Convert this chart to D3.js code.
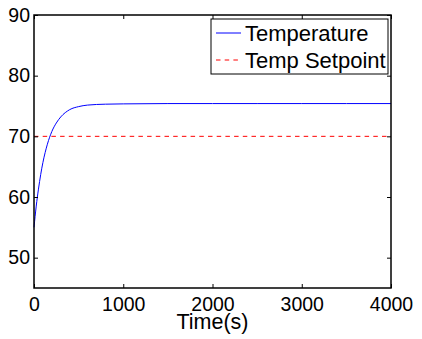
<!DOCTYPE html>
<html>
<head>
<meta charset="utf-8">
<script src="https://cdn.jsdelivr.net/npm/d3@7"></script>
<style>
  body { margin: 0; background: #fff; }
  svg { font-family: "Liberation Sans", Arial, Helvetica, sans-serif; }
  .axis path, .axis line { stroke: #000; }
</style>
</head>
<body>
<div id="chart"></div>
<script>
// Data
const timeValues = [0, 25, 50, 75, 100, 150, 200, 250, 300, 400, 500, 600, 800, 1000, 1500, 2000, 2500, 3000, 3500, 4000];
const tempValues = [55.0, 58.5, 61.3, 63.7, 65.7, 68.7, 70.8, 72.2, 73.2, 74.4, 74.9, 75.15, 75.3, 75.35, 75.4, 75.4, 75.4, 75.4, 75.4, 75.4];
const setpoint = 70;
const xTicks = [0, 1000, 2000, 3000, 4000];
const yTicks = [50, 60, 70, 80, 90];
const seriesNames = ["Temperature", "Temp Setpoint"];

const width = 422, height = 339;
const margin = { left: 34, top: 15, right: 31, bottom: 51 };
const plotW = width - margin.left - margin.right;
const plotH = height - margin.top - margin.bottom;

const svg = d3.select("#chart").append("svg")
    .attr("width", width)
    .attr("height", height);

const x = d3.scaleLinear().domain([0, 4000]).range([0, plotW]);
const y = d3.scaleLinear().domain([45, 90]).range([plotH, 0]);

const g = svg.append("g")
    .attr("transform", `translate(${margin.left},${margin.top})`);

// setpoint line
g.append("line")
    .attr("x1", x(0)).attr("x2", x(4000))
    .attr("y1", y(setpoint)).attr("y2", y(setpoint))
    .attr("stroke", "#ff0000")
    .attr("stroke-width", 1)
    .attr("stroke-dasharray", "4.5,4.2");

// temperature curve
const points = timeValues.map((t, i) => [t, tempValues[i]]);
const line = d3.line()
    .x(d => x(d[0]))
    .y(d => y(d[1]))
    .curve(d3.curveMonotoneX);

g.append("path")
    .datum(points)
    .attr("fill", "none")
    .attr("stroke", "#0000ff")
    .attr("stroke-width", 1)
    .attr("d", line);

// axes, ticks pointing inward on all four sides
const xAxis = g.append("g")
    .attr("class", "axis")
    .attr("transform", `translate(0,${plotH})`)
    .call(d3.axisBottom(x).tickValues(xTicks).tickFormat(d3.format("d"))
        .tickSizeInner(-4).tickSizeOuter(0).tickPadding(9));
xAxis.selectAll("text").attr("font-size", "19.5px").attr("fill", "#000");

const yAxis = g.append("g")
    .attr("class", "axis")
    .call(d3.axisLeft(y).tickValues(yTicks).tickFormat(d3.format("d"))
        .tickSizeInner(-4).tickSizeOuter(0).tickPadding(4));
yAxis.selectAll("text").attr("font-size", "19.5px").attr("fill", "#000");

g.append("g")
    .attr("class", "axis")
    .call(d3.axisTop(x).tickValues(xTicks).tickSizeInner(-4).tickSizeOuter(0).tickFormat(""));
g.append("g")
    .attr("class", "axis")
    .attr("transform", `translate(${plotW},0)`)
    .call(d3.axisRight(y).tickValues(yTicks).tickSizeInner(-4).tickSizeOuter(0).tickFormat(""));

g.selectAll(".axis .domain").remove();

// box
g.append("rect")
    .attr("x", 0).attr("y", 0)
    .attr("width", plotW).attr("height", plotH)
    .attr("fill", "none")
    .attr("stroke", "#000")
    .attr("stroke-width", 1.5);

// x label
svg.append("text")
    .attr("x", margin.left + plotW / 2)
    .attr("y", 329)
    .attr("text-anchor", "middle")
    .attr("font-size", "21.5px")
    .text("Time(s)");

// legend
const legend = svg.append("g").attr("transform", "translate(211,19)");
legend.append("rect")
    .attr("width", 177).attr("height", 55)
    .attr("fill", "#fff")
    .attr("stroke", "#000")
    .attr("stroke-width", 1);

const legendItems = [
  { name: seriesNames[0], color: "#0000ff", dash: null, cy: 14 },
  { name: seriesNames[1], color: "#ff0000", dash: "4.5,4.2", cy: 41 }
];
legendItems.forEach(d => {
  legend.append("line")
      .attr("x1", 5).attr("x2", 30)
      .attr("y1", d.cy).attr("y2", d.cy)
      .attr("stroke", d.color)
      .attr("stroke-width", 1)
      .attr("stroke-dasharray", d.dash);
  legend.append("text")
      .attr("x", 34)
      .attr("y", d.cy + 8)
      .attr("font-size", "22px")
      .text(d.name);
});
</script>
</body>
</html>
